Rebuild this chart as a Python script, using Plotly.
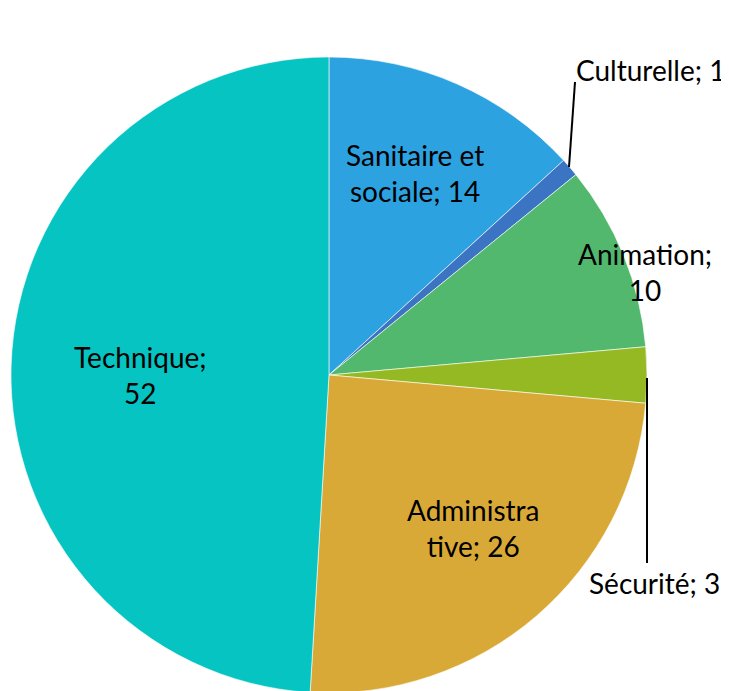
import plotly.graph_objects as go

labels = ["Sanitaire et sociale", "Culturelle", "Animation", "Sécurité", "Administrative", "Technique"]
values = [14, 1, 10, 3, 26, 52]
label_text = ["Sanitaire et<br>sociale; 14", "Culturelle; 1", "Animation;<br>10", "Sécurité; 3",
              "Administra<br>tive; 26", "Technique;<br>52"]
colors = ["#2CA2E0", "#3B74C2", "#51B86D", "#94B922", "#D9A938", "#05C4C2"]

W, H = 729, 691
T, B = 49, 6
PH = H - T - B
OFF = 8  # page body margin

# label centres in screen pixels (layout positions)
label_px = [(415, 173), (650, 70), (645, 272), (654, 583), (473, 528), (140, 375)]

def px(x, y):
    return (x - OFF) / W, (H - B - (y - OFF)) / PH

fig = go.Figure(go.Pie(
    labels=labels, values=values, sort=False, direction="clockwise", rotation=0,
    marker=dict(colors=colors, line=dict(color="white", width=0.6)),
    textinfo="none", hoverinfo="label+value", showlegend=False,
    domain=dict(x=[0.0041, 0.8765], y=[0, 1]),
))

for txt, (lx, ly) in zip(label_text, label_px):
    xx, yy = px(lx, ly)
    fig.add_annotation(x=xx, y=yy, xref="paper", yref="paper", text=txt, showarrow=False,
                       xanchor="center", yanchor="middle",
                       font=dict(family="Lato", size=28, color="black"), align="center")

# leader lines
for (x0, y0, x1, y1) in [(569, 167, 575, 82), (647, 378, 647, 563)]:
    a0, b0 = px(x0, y0)
    a1, b1 = px(x1, y1)
    fig.add_shape(type="line", xref="paper", yref="paper", x0=a0, y0=b0, x1=a1, y1=b1,
                  line=dict(color="black", width=2))

fig.update_layout(width=W, height=H, margin=dict(l=0, r=0, t=T, b=B),
                  paper_bgcolor="white", plot_bgcolor="white")
fig.write_html("out.html")
